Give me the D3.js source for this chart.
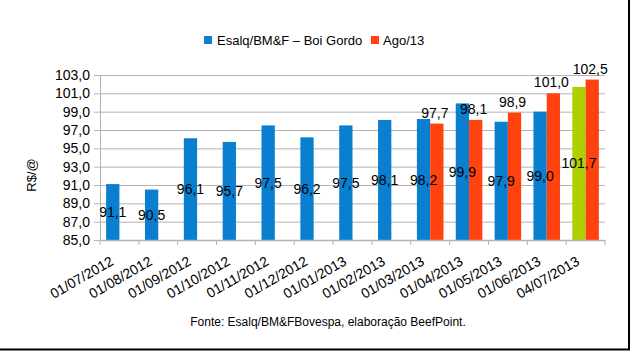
<!DOCTYPE html>
<html>
<head>
<meta charset="utf-8">
<script src="https://cdn.jsdelivr.net/npm/d3@7"></script>
<style>
  body { margin: 0; background: #fff; }
  text { font-family: "Liberation Sans", Arial, sans-serif; fill: #000; }
</style>
</head>
<body>
<div id="chart"></div>
<script>
const categories = ['01/07/2012', '01/08/2012', '01/09/2012', '01/10/2012', '01/11/2012', '01/12/2012',
  '01/01/2013', '01/02/2013', '01/03/2013', '01/04/2013', '01/05/2013', '01/06/2013', '04/07/2013'];
const esalq = [91.1, 90.5, 96.1, 95.7, 97.5, 96.2, 97.5, 98.1, 98.2, 99.9, 97.9, 99.0, 101.7];
const ago13 = [null, null, null, null, null, null, null, null, 97.7, 98.1, 98.9, 101.0, 102.5];
const yTicks = [85, 87, 89, 91, 93, 95, 97, 99, 101, 103];
const seriesNames = ['Esalq/BM&F – Boi Gordo', 'Ago/13'];

const blue = '#0a7fd0';
const orange = '#ff420e';
const green = '#aecf00';

const W = 631, H = 352;
const margin = { top: 75, right: 26, bottom: 112, left: 100 };
const width = W - margin.left - margin.right;
const height = H - margin.top - margin.bottom;

const fmt = v => d3.format('.1f')(v).replace('.', ',');

const svg = d3.select('#chart')
  .append('svg')
  .attr('width', W)
  .attr('height', H);

// border (right / bottom)
svg.append('line').attr('x1', 629).attr('x2', 629).attr('y1', 0).attr('y2', 350)
  .attr('stroke', '#000').attr('stroke-width', 2);
svg.append('line').attr('x1', 0).attr('x2', 630).attr('y1', 349.5).attr('y2', 349.5)
  .attr('stroke', '#000').attr('stroke-width', 2);

const g = svg.append('g')
  .attr('transform', `translate(${margin.left}, ${margin.top})`);

// X Scale
const x = d3.scaleBand()
  .domain(categories)
  .range([0, width]);

const x1 = d3.scaleBand()
  .domain([0, 1])
  .range([x.bandwidth() * 0.158, x.bandwidth() * 0.842]);

// Y Scale
const y = d3.scaleLinear()
  .domain([85, 103])
  .range([height, 0]);

// Grid + Y axis
const yAxis = g.append('g')
  .call(d3.axisLeft(y).tickValues(yTicks).tickSize(6).tickPadding(4).tickFormat(fmt));
yAxis.select('.domain').attr('stroke', '#b3b3b3');
yAxis.selectAll('.tick line').attr('stroke', '#b3b3b3');
yAxis.selectAll('.tick text').style('font-size', '14px').attr('fill', '#000');

g.append('g')
  .selectAll('line')
  .data(yTicks.filter(t => t !== 85))
  .enter()
  .append('line')
  .attr('x1', 0)
  .attr('x2', width)
  .attr('y1', d => y(d) + 0.5)
  .attr('y2', d => y(d) + 0.5)
  .attr('stroke', '#b3b3b3');

// Bars – Esalq
g.selectAll('rect.esalq')
  .data(esalq)
  .enter()
  .append('rect')
  .attr('class', 'esalq')
  .attr('x', (d, i) => x(categories[i]) + x1(0))
  .attr('width', x1.bandwidth())
  .attr('y', d => y(d))
  .attr('height', d => height - y(d))
  .attr('fill', (d, i) => i === categories.length - 1 ? green : blue);

// Bars – Ago/13
g.selectAll('rect.ago')
  .data(ago13)
  .enter()
  .filter(d => d !== null)
  .append('rect')
  .attr('class', 'ago')
  .attr('x', (d, i) => x(categories[ago13.indexOf(d)]) + x1(1))
  .attr('width', x1.bandwidth())
  .attr('y', d => y(d))
  .attr('height', d => height - y(d))
  .attr('fill', orange);

// X axis
const xAxis = g.append('g')
  .attr('transform', `translate(0, ${height})`)
  .call(d3.axisBottom(x).tickSize(0).tickFormat(''));
xAxis.select('.domain').attr('stroke', '#b3b3b3').attr('stroke-width', 1.5);

g.append('g')
  .selectAll('line')
  .data(d3.range(categories.length + 1))
  .enter()
  .append('line')
  .attr('x1', i => i * x.step())
  .attr('x2', i => i * x.step())
  .attr('y1', height)
  .attr('y2', height + 5)
  .attr('stroke', '#b3b3b3');

g.selectAll('text.xlab')
  .data(categories)
  .enter()
  .append('text')
  .attr('class', 'xlab')
  .attr('text-anchor', 'end')
  .attr('transform', d => `translate(${x(d) + x.bandwidth() / 2 - 5}, ${height + 24}) rotate(-30)`)
  .style('font-size', '14px')
  .text(d => d);

// Value labels – Esalq (centered in bar)
g.selectAll('text.vesalq')
  .data(esalq)
  .enter()
  .append('text')
  .attr('class', 'vesalq')
  .attr('x', (d, i) => x(categories[i]) + x1(0) + x1.bandwidth() / 2)
  .attr('y', d => (y(d) + height) / 2 + 5)
  .attr('text-anchor', 'middle')
  .style('font-size', '14px')
  .text(d => fmt(d));

// Value labels – Ago/13 (above bar)
g.selectAll('text.vago')
  .data(ago13.map((d, i) => ({ d, i })).filter(o => o.d !== null))
  .enter()
  .append('text')
  .attr('class', 'vago')
  .attr('x', o => x(categories[o.i]) + x1(1) + x1.bandwidth() / 2 - 2)
  .attr('y', o => y(o.d) - 6)
  .attr('text-anchor', 'middle')
  .style('font-size', '14px')
  .text(o => fmt(o.d));

// Y-axis label
svg.append('text')
  .attr('transform', 'rotate(-90)')
  .attr('x', -175)
  .attr('y', 36)
  .attr('text-anchor', 'middle')
  .style('font-size', '13px')
  .text('R$/@');

// Legend
const legend = svg.append('g');
legend.append('rect').attr('x', 204).attr('y', 36).attr('width', 8).attr('height', 8).attr('fill', blue);
legend.append('text').attr('x', 217).attr('y', 45).style('font-size', '13px').text(seriesNames[0]);
legend.append('rect').attr('x', 371).attr('y', 36).attr('width', 8).attr('height', 8).attr('fill', orange);
legend.append('text').attr('x', 383).attr('y', 45).style('font-size', '13px').text(seriesNames[1]);

// Source
svg.append('text')
  .attr('x', 328)
  .attr('y', 326)
  .attr('text-anchor', 'middle')
  .style('font-size', '12px')
  .text('Fonte: Esalq/BM&FBovespa, elaboração BeefPoint.');
</script>
</body>
</html>
